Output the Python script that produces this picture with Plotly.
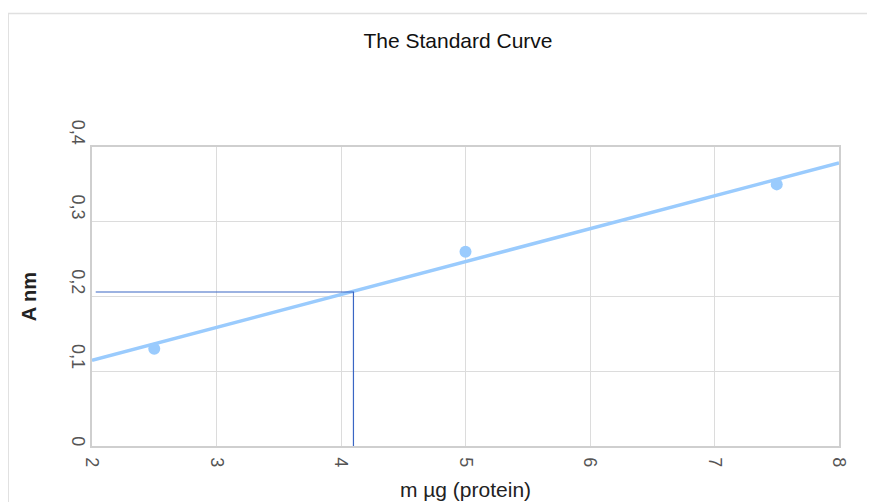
import numpy as np
import plotly.graph_objects as go

# Data
mass_ug = [2.5, 5.0, 7.5]
absorbance = [0.130, 0.260, 0.350]
x_range = [2, 8]
y_range = [0, 0.4]
x_ticks = [2, 3, 4, 5, 6, 7, 8]
y_ticks = [0, 0.1, 0.2, 0.3, 0.4]
# y tick labels (decimal comma); the "0" is padded so all labels end at their gridline
y_tick_labels = ["\u2007\u20070", "0,1", "0,2", "0,3", "0,4"]
sample_x = [2.03, 4.1]      # horizontal guide runs from here to the sample mass
sample_abs = 0.206          # absorbance read for the sample

# trendline (least squares fit of the points)
slope, intercept = np.polyfit(mass_ug, absorbance, 1)
trend_x = np.array(x_range, dtype=float)
trend_y = slope * trend_x + intercept

LIGHT = "#9acbfd"
GUIDE = "#3a66c4"
GRID = "#dcdcdc"
FONT = "Liberation Sans, Arial, sans-serif"

fig = go.Figure()
fig.add_trace(go.Scatter(x=trend_x, y=trend_y, mode="lines",
                         line=dict(color=LIGHT, width=3.5),
                         hoverinfo="skip", showlegend=False))
fig.add_trace(go.Scatter(x=mass_ug, y=absorbance, mode="markers",
                         marker=dict(color=LIGHT, size=12),
                         showlegend=False))
# guide lines: horizontal at sample absorbance, vertical down at sample mass
fig.add_trace(go.Scatter(x=[sample_x[0], sample_x[1], sample_x[1]],
                         y=[sample_abs, sample_abs, y_range[0]],
                         mode="lines", line=dict(color=GUIDE, width=1.2),
                         hoverinfo="skip", showlegend=False))

W, H = 875, 502
OFF = 8  # page body margin offset
L, R, T, B = 92.3 - OFF, 35.7 + OFF, 146.5 - OFF, 53.3 + OFF
pw, ph = W - L - R, H - T - B

fig.update_layout(
    width=W, height=H,
    margin=dict(l=L, r=R, t=T, b=B),
    paper_bgcolor="white", plot_bgcolor="white",
    separators=", ",
    font=dict(family=FONT, color="#222"),
    title=dict(text="The Standard Curve", x=(458 - OFF) / W, xanchor="center",
               y=1 - (41 - OFF) / H, yanchor="middle", xref="container",
               yref="container", font=dict(size=21, color="#111")),
    xaxis=dict(range=x_range, tickvals=x_ticks, tickangle=90,
               showgrid=True, gridcolor=GRID, gridwidth=1,
               showline=True, linecolor="#cfcfcf", linewidth=1.5, mirror=True,
               zeroline=False, ticks="", ticklabelstandoff=6,
               tickfont=dict(size=18, color="#555"),
               title=dict(text="m µg (protein)", standoff=16,
                          font=dict(size=21, color="#222"))),
    yaxis=dict(range=y_range, tickvals=y_ticks, ticktext=y_tick_labels,
               tickangle=90,
               showgrid=True, gridcolor=GRID, gridwidth=1,
               showline=True, linecolor="#cfcfcf", linewidth=1.5, mirror=True,
               zeroline=False, ticks="",
               ticklabelstandoff=-3, ticklabelshift=-12,
               tickfont=dict(size=18, color="#555"),
               title=dict(text="<b>A nm</b>", standoff=26,
                          font=dict(size=20, color="#222"))),
    shapes=[dict(type="rect", xref="paper", yref="paper",
                 x0=(8.5 - OFF - L) / pw, x1=(W + 20 - L) / pw,
                 y0=-(B + 20) / ph, y1=1 + (T - 11.5 + OFF) / ph,
                 line=dict(color="#e0e0e0", width=1.5), layer="below")],
)

fig.write_html("out.html")
